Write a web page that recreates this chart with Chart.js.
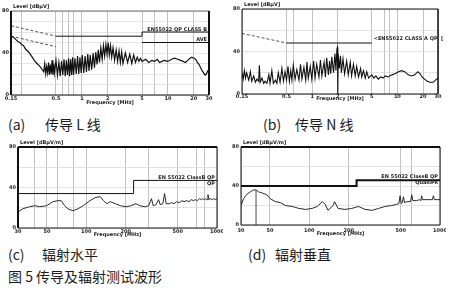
<!DOCTYPE html>
<html>
<head>
<meta charset="utf-8">
<script src="https://cdn.jsdelivr.net/npm/chart.js@4.4.0/dist/chart.umd.min.js"></script>
<style>
body{margin:0;width:450px;height:288px;background:#fff;position:relative;overflow:hidden;}
canvas{position:absolute;}
.cap{position:absolute;font-family:"Noto Sans CJK SC","Noto Sans",sans-serif;font-size:14px;line-height:14px;color:#1c1c1c;white-space:pre;}
</style>
</head>
<body>
<canvas id="chartA" width="215" height="106" style="left:0;top:0"></canvas>
<canvas id="chartB" width="219" height="106" style="left:225px;top:0"></canvas>
<canvas id="chartC" width="223" height="103" style="left:0;top:136px"></canvas>
<canvas id="chartD" width="221" height="102" style="left:225px;top:136px"></canvas>

<div class="cap" style="left:8px;top:117px">(a)</div>
<div class="cap" style="left:45px;top:117px">传导 L 线</div>
<div class="cap" style="left:263px;top:117px">(b)</div>
<div class="cap" style="left:295px;top:117px">传导 N 线</div>
<div class="cap" style="left:8px;top:247px">(c)</div>
<div class="cap" style="left:42px;top:247px">辐射水平</div>
<div class="cap" style="left:248px;top:247px">(d)</div>
<div class="cap" style="left:275px;top:247px">辐射垂直</div>
<div class="cap" style="left:8px;top:269px">图 5 传导及辐射测试波形</div>

<script>
// (a) 传导 L 线 : 频率 MHz / 电平 dBμV
const freqA = [0.15,0.16,0.17,0.18,0.19,0.2,0.21,0.22,0.24,0.26,0.28,0.3,0.32,0.34,
  0.36,0.37,0.38,0.39,0.4,0.41,0.42,0.43,0.44,0.45,0.46,0.47,0.48,0.5,
  0.52,0.54,0.56,0.58,0.6,0.62,0.64,0.66,0.68,0.7,0.72,0.74,0.76,0.78,
  0.8,0.83,0.86,0.89,0.92,0.95,0.98,1.01,1.05,1.09,1.13,1.17,1.21,1.25,
  1.3,1.35,1.4,1.45,1.5,1.55,1.6,1.66,1.72,1.78,1.84,1.9,1.96,2.02,
  2.08,2.15,2.22,2.3,2.4,2.5,2.6,2.7,2.8,2.9,3.0,3.2,3.4,3.6,
  3.8,4.0,4.2,4.4,4.6,4.8,5.0,5.5,6,6.5,7,7.5,8,9,
  10,11,12,13,14,15,16,17,18,19,20,21,22,23,
  24,25,26,27,28,29,30];
const levelA = [56,55,53,51,50,48,47,44,41,37,33,30,28,25,
  22,30,20,27,21,31,19,29,20,33,19,30,21,33,
  19,31,18,32,19,34,18,33,19,35,18,34,19,36,
  19,35,20,37,20,36,21,38,21,37,22,39,23,38,
  24,40,26,41,29,43,31,45,34,47,37,48,39,50,
  38,47,36,45,33,43,32,42,31,41,30,40,31,39,
  30,38,31,36,32,35,32,34,31,33,32,34,31,33,
  32,34,35,34,33,32,31,33,35,36,35,34,31,29,
  26,23,21,19,20,23,24];
const qpFreqA = [0.15,0.5,5,5,30];
const qpLevelA = [66,56,56,60,60];
const avFreqA = [0.15,0.5,1,5,30];
const avLevelA = [56,46,null,50,50];
const gridA = [0.15,0.2,0.5,0.6,0.7,0.8,1,2,5,7,10,20,30];
const tickLabelsA = [0.15,0.5,1,2,5,10,20,30];

// (b) 传导 N 线
const freqB = [0.15,0.155,0.16,0.165,0.17,0.18,0.188,0.195,0.206,0.215,0.225,0.235,0.24,0.245,
  0.257,0.27,0.28,0.294,0.31,0.32,0.336,0.35,0.37,0.385,0.4,0.42,0.441,0.46,
  0.48,0.5,0.52,0.54,0.56,0.578,0.6,0.63,0.66,0.7,0.73,0.758,0.8,0.84,
  0.868,0.9,0.95,0.99,1.04,1.08,1.13,1.2,1.25,1.3,1.38,1.43,1.48,1.55,
  1.6,1.65,1.7,1.78,1.85,1.9,1.95,1.98,2.0,2.02,2.08,2.15,2.2,2.3,
  2.4,2.54,2.65,2.8,2.9,3.05,3.2,3.33,3.5,3.7,3.82,4.0,4.2,4.37,
  4.6,5.0,5.3,5.6,5.96,6.4,6.8,7.2,7.8,8.6,9.4,10.3,11.2,12.2,
  13.4,14.7,16,17.4,18.5,19.5,20.8,22.5,24.1,26.5,28,30];
const levelB = [20,14,22,15,20,13,21,12,17,11,14,12,27,11,
  15,10,12,10,18,10,22,10,13,10,20,11,24,12,
  21,13,26,12,22,13,27,14,23,13,28,14,25,13,
  30,15,26,14,31,15,28,16,32,17,30,16,34,18,
  31,19,35,20,38,22,42,44,0,38,24,36,20,33,
  19,31,18,30,17,28,17,26,16,24,16,22,15,21,
  15,18,15,17,14,16,15,17,16,18,19,21,22,21,
  18,17,18,21,19,16,14,12,11,11,13,15];
const qpFreqB = [0.15,0.5,5];
const qpLevelB = [57,48,48];
const gridB = [0.15,0.5,0.6,1,2,5,7,8,10,20,30];
const tickLabelsB = [0.15,0.5,1,2,5,10,20,30];

// (c) 辐射水平 : 频率 MHz / 电平 dBμV/m
const freqC = [30,32.7,36.7,40.5,43.9,49.6,55.6,60.6,64.3,68.2,72.2,79,86.3,94.5,
  106.6,116.7,127.6,135.3,143.7,152.5,166.9,182.8,200,219,240,256.6,281,300,
  315,325,341,357,368,385,397,408,432,450,470,490,515,540,
  560,585,611,635,660,685,708,735,760,780,800,820,840,853,
  866,890,920,945,970,1000];
const levelC = [16,19,21,22,21,22,26,27,27,22,19,17,19,22,
  27,30,31,27,24,26,24,22,21,22,24,22,21,22,
  29,22,23,28,23,24,34,24,24,25,24,26,25,27,
  26,27,26,28,27,28,27,29,28,29,28,29,28,33,
  28,29,28,29,28,29];
const limFreqC = [30,230,230,1000];
const limLevelC = [34,34,47,47];
const gridC = [30,40,50,60,80,100,200,300,500,700,800,1000];
const tickLabelsC = [30,50,100,200,500,1000];

// (d) 辐射垂直
const freqD = [30,31.4,33.3,35.3,37.5,39.1,40.9,43.3,47.3,50.2,54.9,60,65.6,73.9,
  83.3,93.6,105,115,126,132.5,139,152,156,166,187,211,238,267,
  301,338,381,428,460,485,495,505,515,525,535,560,595,608,
  620,660,700,715,724,733,780,830,875,890,905,950,1000];
const levelD = [20,27,31.5,34,36,36,34,33,31,27,24,23,20,19,
  17,16,17,19,24,21,15,20,24,17,16,17,19,16,
  15,17,19,20,21,22,30,22,23,29,23,24,24,31,
  25,25,26,25,30,26,26,26,26,30,26,26,26];
const limFreqD = [30,230,230,1000];
const limLevelD = [40,40,46,46];
const markerFreqD = [39.1];
const markerLevelD = [36];
const gridD = [30,50,100,200,500,600,1000];
const tickLabelsD = [30,50,100,200,500,1000];

function pts(fs, vs){ return fs.map((f,i)=>({x:f, y:vs[i]})); }

// 标题、边框、限值文字
const annot = {
  id:'annot',
  afterDraw(chart, args, o){
    const ctx = chart.ctx, a = chart.chartArea, xs = chart.scales.x, ys = chart.scales.y;
    ctx.save();
    ctx.strokeStyle = '#111';
    const seg = (w,x1,y1,x2,y2)=>{ if(!w) return; ctx.lineWidth=w; ctx.beginPath(); ctx.moveTo(x1,y1); ctx.lineTo(x2,y2); ctx.stroke(); };
    const f = o.frame;
    seg(f[0],a.left,a.top,a.left,a.bottom);
    seg(f[1],a.left,a.top,a.right,a.top);
    seg(f[2],a.right,a.top,a.right,a.bottom);
    seg(f[3],a.left,a.bottom,a.right,a.bottom);
    ctx.fillStyle = '#222';
    ctx.font = 'bold 5px "DejaVu Sans"';
    ctx.textBaseline = 'middle';
    ctx.textAlign = 'left';
    ctx.fillText(o.yTitle, a.left+2, a.top-4);
    ctx.textAlign = 'center';
    ctx.fillText(o.xTitle, (a.left+a.right)/2, a.bottom+o.xTitleDy);
    o.notes.forEach(n=>{
      ctx.textAlign = n.align;
      const x = n.f ? xs.getPixelForValue(n.f)+2 : a.right-2;
      ctx.fillText(n.text, x, ys.getPixelForValue(n.v)+n.dy);
    });
    ctx.restore();
  }
};

function dashBelow(lim){
  return {
    borderDash: c => c.p0.parsed.x < lim ? [3,2] : undefined,
    borderColor: c => c.p0.parsed.x < lim ? '#555' : undefined
  };
}

function makeChart(id, p){
  const tickFont = {size:5, weight:'bold', family:'DejaVu Sans'};
  new Chart(document.getElementById(id).getContext('2d'), {
    type:'line',
    data:{datasets:p.datasets},
    options:{
      responsive:false,
      animation:false,
      layout:{padding:{left:0, top:p.padTop, right:6, bottom:0}},
      plugins:{legend:{display:false}, tooltip:{enabled:false}, annot:p.annot},
      elements:{point:{radius:0}, line:{tension:0}},
      scales:{
        x:{
          type:'logarithmic', min:p.xMin, max:p.xMax,
          afterBuildTicks: s=>{ s.ticks = p.grid.map(v=>({value:v})); },
          afterFit: s=>{ s.height=p.xh; s.paddingLeft=0; s.paddingRight=0; },
          grid:{color:'#a8a8a8', lineWidth:0.7, drawTicks:false},
          border:{display:false},
          ticks:{autoSkip:false, maxRotation:0, minRotation:0, padding:p.xPad, color:'#222', font:tickFont,
            callback: v => p.xLabels.includes(v) ? String(v) : ''}
        },
        y:{
          min:0, max:80,
          afterFit: s=>{ s.width=p.yw; s.paddingTop=0; s.paddingBottom=0; },
          grid:{color:'#d2d2d2', lineWidth:0.6, drawTicks:false},
          border:{display:false},
          ticks:{stepSize:p.yStep, padding:2, color:'#222', font:tickFont,
            callback: v => v%40===0 ? String(v) : ''}
        }
      }
    },
    plugins:[annot]
  });
}

makeChart('chartA', {
  padTop:11, yw:11, xh:11, xPad:0.5, yStep:10, xMin:0.15, xMax:30, grid:gridA, xLabels:tickLabelsA,
  datasets:[
    {data:pts(freqA,levelA), borderColor:'#111', borderWidth:1.2},
    {data:pts(qpFreqA,qpLevelA), borderColor:'#111', borderWidth:1, segment:dashBelow(0.5)},
    {data:pts(avFreqA,avLevelA), borderColor:'#111', borderWidth:1, spanGaps:false, segment:dashBelow(0.5)}
  ],
  annot:{frame:[2,0.6,2,1], yTitle:'Level [dBμV]', xTitle:'Frequency [MHz]', xTitleDy:8,
    notes:[{text:'EN55022 QP CLASS B', v:60, dy:-2.5, align:'right'},
           {text:'AVE', v:50, dy:-2.5, align:'right'}]}
});

makeChart('chartB', {
  padTop:9, yw:17, xh:12, xPad:0, yStep:20, xMin:0.15, xMax:30, grid:gridB, xLabels:tickLabelsB,
  datasets:[
    {data:pts(freqB,levelB), borderColor:'#111', borderWidth:1.1},
    {data:pts(qpFreqB,qpLevelB), borderColor:'#111', borderWidth:1, segment:dashBelow(0.5)}
  ],
  annot:{frame:[1,1,1.5,1], yTitle:'Level [dBμV]', xTitle:'Frequency [MHz]', xTitleDy:5,
    notes:[{text:'<EN55022 CLASS A QP  [PV]', f:5, v:48, dy:-4, align:'left'}]}
});

makeChart('chartC', {
  padTop:11, yw:18, xh:11, xPad:0.5, yStep:20, xMin:30, xMax:1000, grid:gridC, xLabels:tickLabelsC,
  datasets:[
    {data:pts(freqC,levelC), borderColor:'#2a2a2a', borderWidth:1},
    {data:pts(limFreqC,limLevelC), borderColor:'#111', borderWidth:1}
  ],
  annot:{frame:[2,2,1,1], yTitle:'Level [dBμV/m]', xTitle:'Frequency [MHz]', xTitleDy:6.5,
    notes:[{text:'EN 55022 ClassB QP', v:47, dy:-2.5, align:'right'},
           {text:'QP', v:47, dy:2.8, align:'right'}]}
});

makeChart('chartD', {
  padTop:11, yw:16, xh:13, xPad:3, yStep:20, xMin:30, xMax:1000, grid:gridD, xLabels:tickLabelsD,
  datasets:[
    {data:pts(freqD,levelD), borderColor:'#2a2a2a', borderWidth:1},
    {data:pts(limFreqD,limLevelD), borderColor:'#111', borderWidth:2},
    {data:[{x:markerFreqD[0], y:0}, {x:markerFreqD[0], y:markerLevelD[0]}], borderColor:'#333', borderWidth:0.9}
  ],
  annot:{frame:[1,2,1,1], yTitle:'Level [dBμV/m]', xTitle:'Frequency [MHz]', xTitleDy:9,
    notes:[{text:'EN 55022 ClassB QP', v:46, dy:-3.5, align:'right'},
           {text:'QuasiPk', v:46, dy:3, align:'right'}]}
});
</script>
</body>
</html>
